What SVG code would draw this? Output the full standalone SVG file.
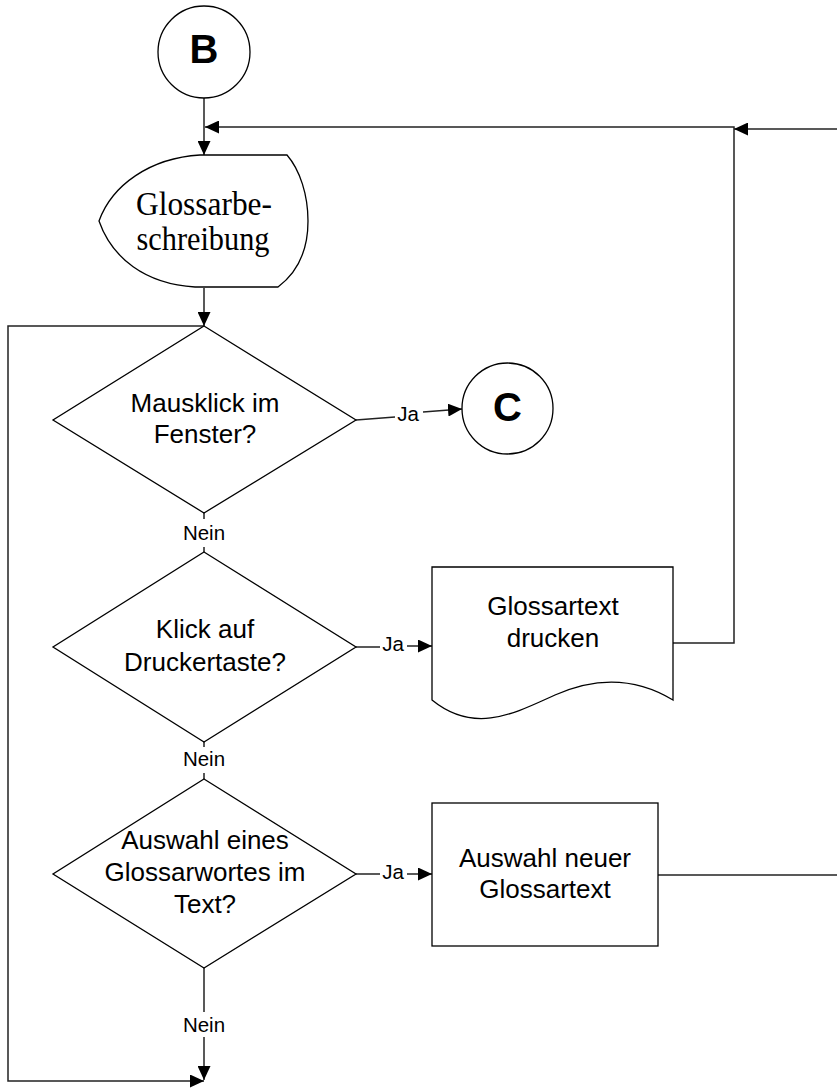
<svg xmlns="http://www.w3.org/2000/svg" width="837" height="1090" viewBox="0 0 837 1090">
<style>
.shape{fill:#fff;stroke:#000;stroke-width:1.3}
.conn{fill:none;stroke:#222;stroke-width:1.5}
.t{font-family:"Liberation Sans",Arial,sans-serif;font-size:26px;fill:#000;text-anchor:middle}
.lbl{font-family:"Liberation Sans",Arial,sans-serif;font-size:20.5px;fill:#000;text-anchor:middle}
.big{font-family:"Liberation Sans",Arial,sans-serif;font-size:40px;font-weight:bold;fill:#000;text-anchor:middle}
.serif{font-family:"Liberation Serif","Times New Roman",serif;font-size:34px;fill:#000;text-anchor:middle}
</style>
<defs>
<marker id="ah" markerUnits="userSpaceOnUse" markerWidth="14" markerHeight="13" refX="14" refY="6.5" orient="auto">
<path d="M0,0 L14,6.5 L0,13 z" fill="#000"/>
</marker>
</defs>
<rect width="837" height="1090" fill="#fff"/>
<g id="connectors">
<path class="conn" d="M204 98 V155" marker-end="url(#ah)"/>
<path class="conn" d="M837 129 H734" marker-end="url(#ah)"/>
<path class="conn" d="M673 643 H734 V127 H205" marker-end="url(#ah)"/>
<path class="conn" d="M204 288 V326" marker-end="url(#ah)"/>
<path class="conn" d="M204 326 H8 V1081 H204" marker-end="url(#ah)"/>
<path class="conn" d="M204 968 V1012"/>
<path class="conn" d="M204 1037 V1080" marker-end="url(#ah)"/>
<path class="conn" d="M204 513 V519 M204 547 V552 M204 742 V747 M204 773 V779"/>
<path class="conn" d="M356 420 L395 417"/>
<path class="conn" d="M423 412 L462 409" marker-end="url(#ah)"/>
<path class="conn" d="M356 647 H380"/>
<path class="conn" d="M407 646 H432" marker-end="url(#ah)"/>
<path class="conn" d="M356 874 H380"/>
<path class="conn" d="M407 874 H432" marker-end="url(#ah)"/>
<path class="conn" d="M658 875 H837"/>
<text class="lbl" x="408" y="421">Ja</text>
<text class="lbl" x="393" y="651">Ja</text>
<text class="lbl" x="393" y="879">Ja</text>
<text class="lbl" x="204" y="540">Nein</text>
<text class="lbl" x="204" y="766">Nein</text>
<text class="lbl" x="204" y="1032">Nein</text>
</g>
<g id="nodeB">
<circle class="shape" cx="204" cy="52" r="46"/>
<text class="big" x="204" y="63">B</text>
</g>
<g id="glossarbeschreibung">
<path class="shape" d="M200 155 H287 C300 170 308 195 308 221 C308 250 298 272 278 287 H195 C145 284 112 258 99 221 C112 185 150 158 200 155 Z"/>
<text class="serif" x="204" y="215" textLength="136" lengthAdjust="spacingAndGlyphs">Glossarbe-</text>
<text class="serif" x="203" y="250" textLength="133" lengthAdjust="spacingAndGlyphs">schreibung</text>
</g>
<g id="decision1">
<polygon class="shape" points="204,326 356,420 204,513 53,420"/>
<text class="t" x="205" y="412">Mausklick im</text>
<text class="t" x="205" y="443">Fenster?</text>
</g>
<g id="nodeC">
<circle class="shape" cx="507.5" cy="408.5" r="45.5"/>
<text class="big" x="507.5" y="421">C</text>
</g>
<g id="decision2">
<polygon class="shape" points="204,552 356,647 204,742 53,647"/>
<text class="t" x="205" y="638">Klick auf</text>
<text class="t" x="205" y="671">Druckertaste?</text>
</g>
<g id="druckenDoc">
<path class="shape" d="M432 567 H673 V700 C640 680 600 675 555 695 C515 713 475 735 432 700 Z"/>
<text class="t" x="553" y="615">Glossartext</text>
<text class="t" x="553" y="647">drucken</text>
</g>
<g id="decision3">
<polygon class="shape" points="204,779 356,874 204,968 53,874"/>
<text class="t" x="205" y="849">Auswahl eines</text>
<text class="t" x="205" y="881">Glossarwortes im</text>
<text class="t" x="205" y="913">Text?</text>
</g>
<g id="auswahlBox">
<rect class="shape" x="432" y="803" width="226" height="143"/>
<text class="t" x="545" y="867">Auswahl neuer</text>
<text class="t" x="545" y="898">Glossartext</text>
</g>
</svg>
